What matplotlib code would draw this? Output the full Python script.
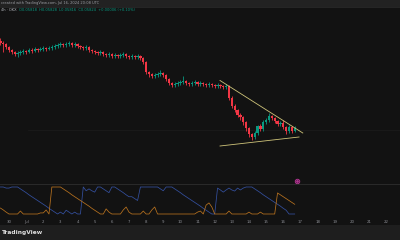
import matplotlib
matplotlib.use("Agg")
import matplotlib.pyplot as plt
from matplotlib.patches import Rectangle
import numpy as np

# ---------------- data ----------------
# 4h candles from Jun 29 12:00 to Jul 16 16:00 (x in days since Jun 30 00:00)
n_candles = 104
start_day = -0.5
bar_days = 1 / 6

opens = [0.05998, 0.05994, 0.05992, 0.05986, 0.05980, 0.05976, 0.05972, 0.05974, 0.05976, 0.05978,
         0.05976, 0.05980, 0.05978, 0.05982, 0.05980, 0.05982, 0.05984, 0.05982, 0.05984, 0.05986,
         0.05988, 0.05990, 0.05992, 0.05990, 0.05992, 0.05994, 0.05990, 0.05992, 0.05988, 0.05986,
         0.05984, 0.05986, 0.05980, 0.05978, 0.05976, 0.05974, 0.05976, 0.05972, 0.05970, 0.05972,
         0.05968, 0.05970, 0.05968, 0.05970, 0.05972, 0.05968, 0.05966, 0.05968, 0.05966, 0.05968,
         0.05964, 0.05956, 0.05936, 0.05932, 0.05928, 0.05930, 0.05932, 0.05934, 0.05930, 0.05922,
         0.05914, 0.05910, 0.05912, 0.05914, 0.05916, 0.05918, 0.05914, 0.05912, 0.05914, 0.05916,
         0.05912, 0.05914, 0.05912, 0.05910, 0.05912, 0.05910, 0.05908, 0.05910, 0.05908, 0.05906,
         0.05908, 0.05884, 0.05868, 0.05860, 0.05850, 0.05846, 0.05836, 0.05824, 0.05812, 0.05806,
         0.05814, 0.05828, 0.05822, 0.05836, 0.05840, 0.05848, 0.05844, 0.05838, 0.05832, 0.05834,
         0.05826, 0.05818, 0.05826, 0.05818]
closes = [0.05994, 0.05992, 0.05986, 0.05980, 0.05976, 0.05972, 0.05974, 0.05976, 0.05978, 0.05976,
          0.05980, 0.05978, 0.05982, 0.05980, 0.05982, 0.05984, 0.05982, 0.05984, 0.05986, 0.05988,
          0.05990, 0.05992, 0.05990, 0.05992, 0.05994, 0.05990, 0.05992, 0.05988, 0.05986, 0.05984,
          0.05986, 0.05980, 0.05978, 0.05976, 0.05974, 0.05976, 0.05972, 0.05970, 0.05972, 0.05968,
          0.05970, 0.05968, 0.05970, 0.05972, 0.05968, 0.05966, 0.05968, 0.05966, 0.05968, 0.05964,
          0.05956, 0.05936, 0.05932, 0.05928, 0.05930, 0.05932, 0.05934, 0.05930, 0.05922, 0.05914,
          0.05910, 0.05912, 0.05914, 0.05916, 0.05918, 0.05914, 0.05912, 0.05914, 0.05916, 0.05912,
          0.05914, 0.05912, 0.05910, 0.05912, 0.05910, 0.05908, 0.05910, 0.05908, 0.05906, 0.05908,
          0.05884, 0.05868, 0.05860, 0.05850, 0.05846, 0.05836, 0.05824, 0.05812, 0.05806, 0.05814,
          0.05828, 0.05822, 0.05836, 0.05840, 0.05848, 0.05844, 0.05838, 0.05832, 0.05834, 0.05826,
          0.05818, 0.05826, 0.05818, 0.05824]
highs = [0.06004, 0.05998, 0.05994, 0.05988, 0.05982, 0.05978, 0.05978, 0.05980, 0.05982, 0.05980,
         0.05984, 0.05984, 0.05986, 0.05984, 0.05986, 0.05988, 0.05986, 0.05988, 0.05990, 0.05992,
         0.05994, 0.05996, 0.05994, 0.05996, 0.05998, 0.05996, 0.05996, 0.05994, 0.05990, 0.05988,
         0.05990, 0.05988, 0.05982, 0.05980, 0.05978, 0.05980, 0.05978, 0.05974, 0.05976, 0.05974,
         0.05974, 0.05972, 0.05974, 0.05976, 0.05974, 0.05970, 0.05972, 0.05970, 0.05972, 0.05970,
         0.05966, 0.05958, 0.05938, 0.05934, 0.05934, 0.05936, 0.05940, 0.05936, 0.05932, 0.05924,
         0.05916, 0.05916, 0.05918, 0.05920, 0.05928, 0.05920, 0.05916, 0.05918, 0.05920, 0.05918,
         0.05918, 0.05916, 0.05914, 0.05916, 0.05914, 0.05912, 0.05914, 0.05912, 0.05910, 0.05912,
         0.05910, 0.05888, 0.05872, 0.05862, 0.05854, 0.05848, 0.05838, 0.05826, 0.05814, 0.05818,
         0.05830, 0.05832, 0.05840, 0.05844, 0.05854, 0.05850, 0.05846, 0.05840, 0.05838, 0.05840,
         0.05828, 0.05830, 0.05828, 0.05828]
lows = [0.05990, 0.05976, 0.05982, 0.05976, 0.05972, 0.05968, 0.05966, 0.05970, 0.05972, 0.05972,
        0.05974, 0.05974, 0.05976, 0.05976, 0.05978, 0.05978, 0.05978, 0.05980, 0.05980, 0.05982,
        0.05984, 0.05986, 0.05986, 0.05986, 0.05988, 0.05986, 0.05986, 0.05984, 0.05982, 0.05980,
        0.05980, 0.05976, 0.05974, 0.05972, 0.05970, 0.05970, 0.05968, 0.05966, 0.05966, 0.05964,
        0.05964, 0.05964, 0.05964, 0.05966, 0.05964, 0.05962, 0.05962, 0.05962, 0.05962, 0.05960,
        0.05952, 0.05932, 0.05926, 0.05924, 0.05924, 0.05926, 0.05928, 0.05926, 0.05918, 0.05910,
        0.05906, 0.05906, 0.05908, 0.05910, 0.05912, 0.05910, 0.05908, 0.05908, 0.05910, 0.05908,
        0.05908, 0.05908, 0.05906, 0.05906, 0.05906, 0.05904, 0.05904, 0.05904, 0.05902, 0.05902,
        0.05880, 0.05864, 0.05856, 0.05846, 0.05840, 0.05830, 0.05818, 0.05806, 0.05800, 0.05802,
        0.05810, 0.05818, 0.05818, 0.05832, 0.05836, 0.05840, 0.05834, 0.05828, 0.05828, 0.05822,
        0.05812, 0.05814, 0.05814, 0.05816]

# Aroon (14) indicator values
aroon_up = [22, 15, 7, 0, 0, 0, 0, 11, 0, 0,
            0, 0, 0, 0, 4, 4, 15, 0, 100, 100,
            100, 100, 93, 86, 79, 71, 64, 57, 50, 43,
            36, 29, 21, 14, 7, 0, 0, 19, 7, 0,
            0, 0, 0, 15, 26, 7, 0, 0, 0, 0,
            11, 0, 0, 15, 26, 0, 0, 0, 0, 0,
            0, 0, 0, 0, 0, 0, 0, 0, 0, 7,
            11, 0, 33, 41, 26, 0, 0, 0, 0, 0,
            11, 0, 0, 0, 0, 0, 0, 7, 0, 0,
            0, 7, 0, 0, 0, 0, 0, 78, 71, 64,
            57, 50, 43, 36]
aroon_down = [100, 100, 96, 96, 100, 100, 100, 93, 86, 79,
              71, 64, 57, 50, 43, 36, 29, 21, 14, 7,
              0, 7, 0, 14, 7, 0, 7, 0, 0, 100,
              86, 93, 86, 81, 100, 100, 93, 86, 79, 100,
              100, 93, 86, 79, 71, 64, 64, 57, 50, 100,
              100, 100, 100, 100, 100, 100, 93, 86, 100, 100,
              100, 93, 86, 79, 71, 64, 57, 50, 43, 36,
              29, 21, 14, 7, 0, 0, 96, 89, 81, 89,
              96, 89, 85, 96, 89, 96, 100, 100, 100, 93,
              86, 79, 71, 64, 57, 50, 43, 36, 29, 21,
              14, 0, 0, 0]

# triangle trend lines (day, price)
upper_line_days = [12.31, 17.14]
upper_line_prices = [0.05919, 0.05814]
lower_line_days = [12.31, 16.92]
lower_line_prices = [0.05788, 0.05806]

# time axis
tick_days = list(range(0, 23))
tick_labels = ["30", "Jul"] + [str(d) for d in range(2, 23)]

# ---------------- style ----------------
BG = "#121212"
GREEN = "#089981"
RED = "#f23645"
TREND = "#cfc47a"
AR_UP = "#b8721f"
AR_DOWN = "#34509f"
GRAYTXT = "#8a8c92"

W, H = 400, 240
fig = plt.figure(figsize=(W / 100, H / 100), dpi=100, facecolor=BG)

def fy(px):
    return 1 - px / H

x_lo, x_hi = -0.525, 22.81

# main pane
ax = fig.add_axes([0, fy(184), 1, (184 - 7) / H])
ax.set_facecolor(BG)
ax.set_xlim(x_lo, x_hi)
ax.set_ylim(0.05712, 0.06066)
for s in ax.spines.values():
    s.set_visible(False)
ax.set_xticks([])
ax.set_yticks([])

days = np.array([start_day + i * bar_days for i in range(n_candles)])
o = np.array(opens); c = np.array(closes); hi = np.array(highs); lo = np.array(lows)
colors = np.where(c >= o, GREEN, RED)
ax.vlines(days, lo, hi, colors=colors, linewidth=0.6, zorder=2)
body_h = np.maximum(np.abs(c - o), 0.000014)
ax.bar(days, body_h, bottom=np.minimum(o, c), width=0.135, color=colors,
       linewidth=0, zorder=3)

# faint horizontal level
ax.axhline(0.05820, xmin=0.07, xmax=1, color="#1b1b1b", linewidth=0.6, zorder=1)

ax.plot(upper_line_days, upper_line_prices, color=TREND, linewidth=0.6, zorder=4)
ax.plot(lower_line_days, lower_line_prices, color=TREND, linewidth=0.6, zorder=4)

# small alert icon
ax.plot([0.742], [0.016], marker="o", markersize=3.2, markerfacecolor="#2a1026",
        markeredgecolor="#b0348f", markeredgewidth=0.7, transform=ax.transAxes,
        clip_on=False, zorder=5)
ax.plot([0.742], [0.016], marker="o", markersize=1.0, color="#b0348f",
        transform=ax.transAxes, clip_on=False, zorder=6)

# indicator pane
ax2 = fig.add_axes([0, fy(217), 1, 33 / H])
ax2.set_facecolor(BG)
ax2.set_xlim(x_lo, x_hi)
ax2.set_ylim(-11.1, 111.1)
for s in ax2.spines.values():
    s.set_visible(False)
ax2.plot(days, aroon_down, color=AR_DOWN, linewidth=0.55)
ax2.plot(days, aroon_up, color=AR_UP, linewidth=0.55)
ax2.set_yticks([])
ax2.set_xticks(tick_days)
ax2.set_xticklabels(tick_labels)
ax2.tick_params(axis="x", length=0, pad=2.0, labelsize=2.8, colors=GRAYTXT)

# separator between panes
fig.add_artist(plt.Line2D([0, 1], [fy(184), fy(184)], color="#2a2a2a", linewidth=0.7))

# top bar
fig.add_artist(Rectangle((0, fy(7)), 1, 7 / H, transform=fig.transFigure,
                         facecolor="#222222", edgecolor="none", zorder=0))
fig.add_artist(plt.Line2D([0, 1], [fy(7), fy(7)], color="#2e2e2e", linewidth=0.5))
fig.text(1 / W, fy(3.3), "created with TradingView.com, Jul 16, 2024 20:08 UTC",
         ha="left", va="center", fontsize=2.6, color="#9a9ca2")

# OHLC header line
fig.text(1 / W, fy(10.3), "4h · OKX", ha="left", va="center", fontsize=2.6, color="#b0b3ba")
fig.text(19 / W, fy(10.3), "O0.05818  H0.05828  L0.05816  C0.05824  +0.00006 (+0.10%)",
         ha="left", va="center", fontsize=2.6, color=GREEN)

# bottom bar
fig.add_artist(Rectangle((0, 0), 1, 15 / H, transform=fig.transFigure,
                         facecolor="#1e1e1e", edgecolor="none", zorder=0))
fig.text(2 / W, fy(232.5), "TradingView", ha="left", va="center", fontsize=4.2,
         color="#e0e0e0", fontweight="bold")

fig.savefig("out.png", dpi=100, facecolor=BG)
